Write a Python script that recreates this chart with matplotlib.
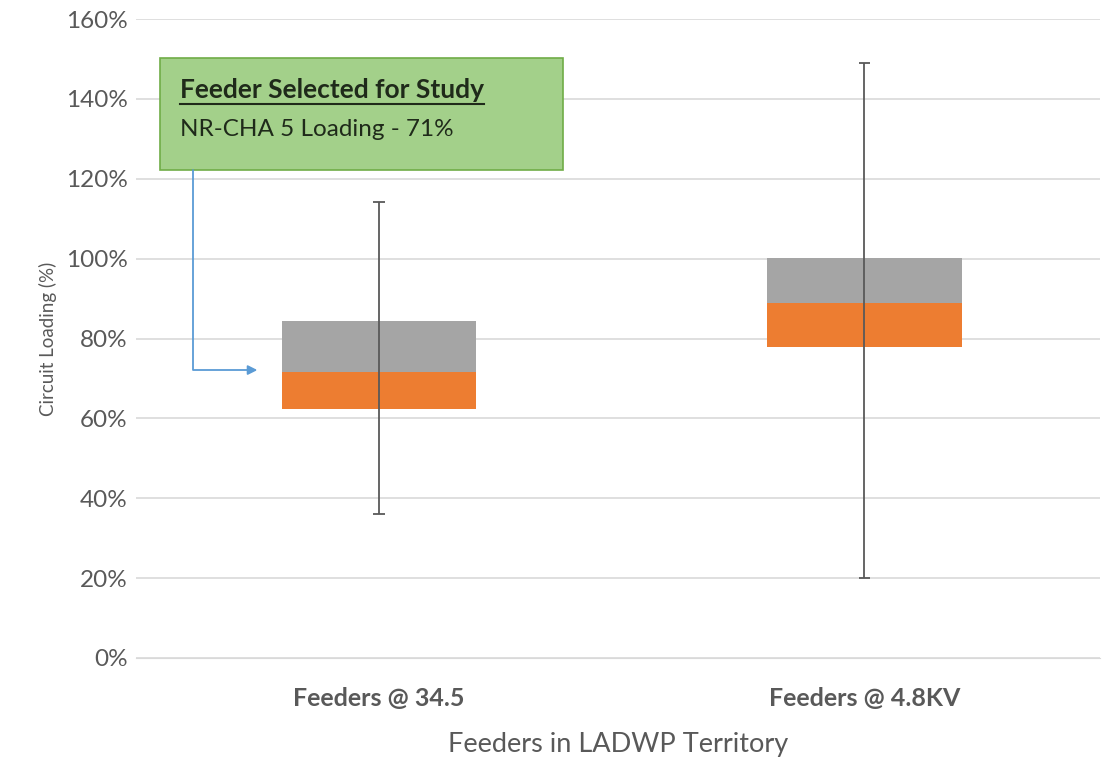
import matplotlib.pyplot as plt
from matplotlib.patches import Rectangle

# values (percent)
categories = ['Feeders @ 34.5', 'Feeders @ 4.8KV']
whisker_low = [36, 20]
box_low = [62.3, 77.9]
box_mid = [71.6, 88.9]
box_high = [84.4, 100.1]
whisker_high = [114.2, 149]
yticks = [0, 20, 40, 60, 80, 100, 120, 140, 160]

plt.rcParams['font.family'] = ['Lato', 'DejaVu Sans']

fig = plt.figure(figsize=(11.08, 7.59), dpi=100)
ax = fig.add_axes([136 / 1108, 101 / 759, (1100 - 136) / 1108, (740 - 101) / 759])

x = list(range(len(categories)))
lower = [m - l for m, l in zip(box_mid, box_low)]
upper = [h - m for h, m in zip(box_high, box_mid)]
ax.bar(x, lower, bottom=box_low, width=0.4, color='#ED7D31', zorder=2)
ax.bar(x, upper, bottom=box_mid, width=0.4, color='#A5A5A5', zorder=2)

# whiskers
ax.vlines(x, whisker_low, whisker_high, color='#595959', lw=1.3, zorder=3)
ax.hlines(whisker_low, [i - 0.012 for i in x], [i + 0.012 for i in x], color='#595959', lw=1.3, zorder=3)
ax.hlines(whisker_high, [i - 0.012 for i in x], [i + 0.012 for i in x], color='#595959', lw=1.3, zorder=3)

ax.set_xlim(-0.5, 1.485)
ax.set_ylim(0, 160)
ax.set_yticks(yticks)
ax.set_yticklabels([f'{v}%' for v in yticks])
ax.set_xticks(x)
ax.set_xticklabels(categories, fontweight='bold')
ax.grid(axis='y', color='#D9D9D9', lw=1.2, zorder=0)
for s in ax.spines.values():
    s.set_visible(False)
ax.spines['bottom'].set_visible(True)
ax.spines['bottom'].set_color('#D9D9D9')
ax.tick_params(axis='both', length=0, colors='#595959')
ax.tick_params(axis='y', labelsize=17.5, pad=6)
ax.tick_params(axis='x', labelsize=18, pad=21)
ax.set_ylabel('Circuit Loading (%)', fontsize=13.5, color='#595959', labelpad=6)
ax.set_xlabel('Feeders in LADWP Territory', fontsize=19.5, color='#595959', labelpad=16)

# callout box
ax.add_patch(Rectangle((-0.451, 122.2), 0.83, 28, facecolor='#A3D08A', edgecolor='#70AD47',
                       lw=1.2, zorder=4, clip_on=False))
ax.text(-0.409, 142.3, 'Feeder Selected for Study', fontsize=19, fontweight='bold',
        color='#1f2a1a', va='center', zorder=5)
ax.plot([-0.409, 0.217], [138.7, 138.7], color='#1f2a1a', lw=1.5, zorder=5)
ax.text(-0.409, 132.3, 'NR-CHA 5 Loading - 71%', fontsize=17.5, color='#1f2a1a', va='center', zorder=5)

ax.annotate('', xy=(-0.25, 72.1), xytext=(-0.383, 122.2),
            arrowprops=dict(arrowstyle='-|>', color='#5B9BD5', lw=1.3,
                            connectionstyle='angle,angleA=90,angleB=0,rad=0',
                            shrinkA=0, shrinkB=0, mutation_scale=14),
            zorder=5)

fig.savefig('out.png', dpi=100)
